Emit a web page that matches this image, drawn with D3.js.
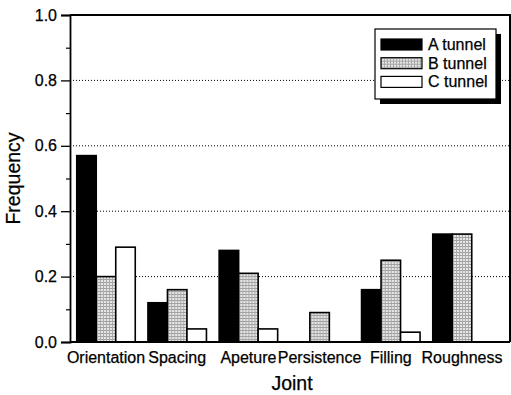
<!DOCTYPE html>
<html>
<head>
<meta charset="utf-8">
<script src="https://cdn.jsdelivr.net/npm/d3@7"></script>
<style>
  html, body { margin: 0; padding: 0; background: #fff; }
  svg { display: block; font-family: Arial, "Liberation Sans", Helvetica, sans-serif; }
  svg text { fill: #000; stroke: #000; stroke-width: 0.25px; }
</style>
</head>
<body>
<svg id="chart" width="511" height="395"></svg>
<script>
// Joint parameters and the frequency recorded in each tunnel
const categories = ["Orientation", "Spacing", "Apeture", "Persistence", "Filling", "Roughness"];
const seriesNames = ["A tunnel", "B tunnel", "C tunnel"];
const tunnelA = [0.57, 0.12, 0.28, 0.00, 0.16, 0.33];
const tunnelB = [0.20, 0.16, 0.21, 0.09, 0.25, 0.33];
const tunnelC = [0.29, 0.04, 0.04, 0.00, 0.03, 0.00];
const yTicks = [0.0, 0.2, 0.4, 0.6, 0.8, 1.0];
const yMinorTicks = [0.1, 0.3, 0.5, 0.7, 0.9];
const gridValues = [0.2, 0.4, 0.6, 0.8];

const series = [tunnelA, tunnelB, tunnelC];

const svg = d3.select("#chart");
const plotL = 70, plotR = 510, plotT = 15, plotB = 342;

// speckled grey fill for the B tunnel bars
const defs = svg.append("defs");
const pat = defs.append("pattern")
  .attr("id", "mesh")
  .attr("patternUnits", "userSpaceOnUse")
  .attr("width", 3).attr("height", 3);
pat.append("rect").attr("width", 3).attr("height", 3).attr("fill", "#e6e6e6");
pat.append("rect").attr("width", 3).attr("height", 1).attr("fill", "#a0a0a0");
pat.append("rect").attr("width", 1).attr("height", 3).attr("fill", "#aaaaaa");

const fills = ["#000", "url(#mesh)", "#fff"];

const y = d3.scaleLinear().domain([0, 1]).range([plotB, plotT]);
const x = d3.scaleBand().domain(categories).range([70.4, 497.6]).padding(0);
const barW = 19.5;
const xs = d3.scaleBand().domain(d3.range(seriesNames.length))
  .range([-barW * 1.5, barW * 1.5]).padding(0);

// dotted grid
svg.append("g").selectAll("line").data(gridValues).join("line")
  .attr("x1", plotL).attr("x2", plotR)
  .attr("y1", d => y(d)).attr("y2", d => y(d))
  .attr("stroke", "#000").attr("stroke-width", 1)
  .attr("stroke-dasharray", "1,2");

// bars
const groups = svg.append("g").selectAll("g").data(categories).join("g")
  .attr("transform", d => `translate(${x(d) + x.bandwidth() / 2},0)`);

groups.selectAll("rect")
  .data((d, i) => series.map((s, k) => ({ k, v: s[i] })).filter(e => e.v > 0))
  .join("rect")
  .attr("x", d => xs(d.k))
  .attr("width", xs.bandwidth())
  .attr("y", d => y(d.v))
  .attr("height", d => y(0) - y(d.v))
  .attr("fill", d => fills[d.k])
  .attr("stroke", "#000")
  .attr("stroke-width", 1.6);

// frame: top and right edges
svg.append("path")
  .attr("d", `M${plotL},${plotT}H${plotR}V${plotB}`)
  .attr("fill", "none").attr("stroke", "#000").attr("stroke-width", 2);

// y axis
const yAxis = svg.append("g").attr("transform", `translate(${plotL},0)`)
  .call(d3.axisLeft(y).tickValues(yTicks).tickFormat(d3.format(".1f"))
    .tickSize(9).tickPadding(4));
yAxis.select(".domain").attr("stroke-width", 1.8);
yAxis.selectAll(".tick line").attr("stroke-width", 1.3);
yAxis.selectAll("text").attr("font-size", 16)
  .attr("font-family", "Arial, 'Liberation Sans', sans-serif");
svg.append("g").attr("transform", `translate(${plotL},0)`)
  .call(d3.axisLeft(y).tickValues(yMinorTicks).tickFormat("").tickSize(4))
  .call(g => g.select(".domain").remove())
  .selectAll("line").attr("stroke-width", 1.2);

// x axis
const xAxis = svg.append("g").attr("transform", `translate(0,${plotB})`)
  .call(d3.axisBottom(x).tickSize(0).tickPadding(10));
xAxis.select(".domain").attr("d", `M${plotL},0H${plotR}`).attr("stroke-width", 2);
xAxis.selectAll("text").attr("font-size", 16)
  .attr("font-family", "Arial, 'Liberation Sans', sans-serif");

// axis titles
svg.append("text")
  .attr("transform", `translate(20,${(plotT + plotB) / 2}) rotate(-90)`)
  .attr("text-anchor", "middle")
  .attr("font-size", 19.5)
  .text("Frequency");
svg.append("text")
  .attr("x", 292).attr("y", 390)
  .attr("text-anchor", "middle")
  .attr("font-size", 19.5)
  .text("Joint");

// legend with drop shadow
const lg = svg.append("g").attr("transform", "translate(375,29)");
const lgW = 121, lgH = 70;
lg.append("rect").attr("x", 5).attr("y", 5).attr("width", lgW).attr("height", lgH).attr("fill", "#000");
lg.append("rect").attr("width", lgW).attr("height", lgH)
  .attr("fill", "#fff").attr("stroke", "#000").attr("stroke-width", 1.2);
const items = lg.selectAll("g.item").data(seriesNames).join("g")
  .attr("class", "item")
  .attr("transform", (d, i) => `translate(6,${10 + i * 18.7})`);
items.append("rect")
  .attr("width", 41).attr("height", 11)
  .attr("fill", (d, i) => fills[i])
  .attr("stroke", "#000").attr("stroke-width", 1.2);
items.append("text")
  .attr("x", 47).attr("y", 11)
  .attr("font-size", 16)
  .text(d => d);
</script>
</body>
</html>
